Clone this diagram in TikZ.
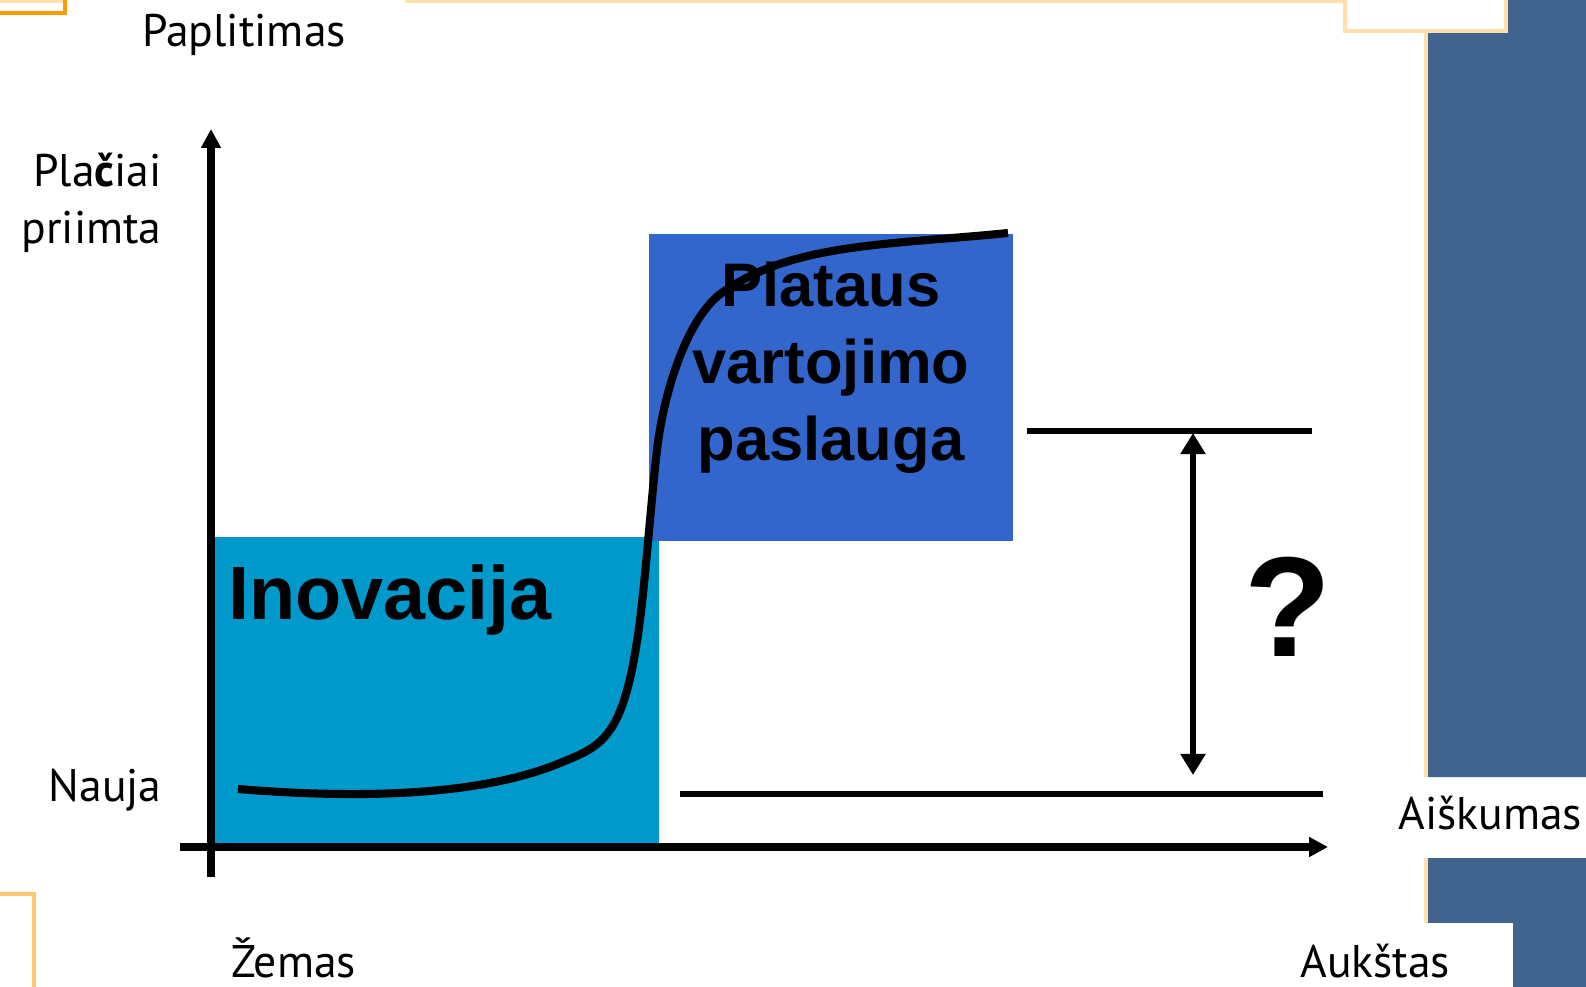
\documentclass[tikz,border=0pt]{standalone}
\usepackage{fontspec}
\setmainfont{PT Sans}
\newfontfamily\arialfont{Liberation Sans}
\usetikzlibrary{positioning, arrows.meta}
\definecolor{innoblue}{HTML}{0099CC}
\definecolor{wideblue}{HTML}{3366CC}
\definecolor{panelblue}{HTML}{41648F}
\definecolor{paleorange}{HTML}{FFDFAD}
\definecolor{darkorange}{HTML}{FF9900}
\definecolor{softorange}{HTML}{FFC870}
\tikzset{axis/.style={draw, line width=4pt, -{Triangle[length=10.8pt, width=10.8pt]}}}
\tikzset{gapline/.style={draw, line width=3pt}}
\tikzset{span/.style={draw, line width=3.6pt, {Triangle[length=12pt, width=13.7pt]}-{Triangle[length=12pt, width=13.7pt]}}}
\tikzset{lbl/.style={inner sep=0, font=\fontsize{26}{32.4}\selectfont}}
\tikzset{bigbold/.style={inner sep=0, font=\arialfont\bfseries\fontsize{35}{43.8}\selectfont}}
\tikzset{area/.style={inner sep=0, outer sep=0, anchor=north west, draw=none}}
\tikzset{frameline/.style={line width=2.6pt}}

\begin{document}
\begin{tikzpicture}[x=0.02cm, y=-0.02cm]
	\useasboundingbox (0,0) rectangle (1586,987);
	% slide frame
	\fill[panelblue] (1428,33) -- (1508,33) -- (1508,0) -- (1586,0) -- (1586,777) -- (1428,777) -- cycle;
	\fill[panelblue] (1428,858) rectangle (1586,923);
	\fill[panelblue] (1513,923) rectangle (1586,987);
	\draw[frameline, paleorange] (405,1) -- (1345,1) -- (1345,31) -- (1506,31) -- (1506,0);
	\draw[frameline, paleorange] (1426,33) -- (1426,777);
	\draw[frameline, paleorange] (1426,858) -- (1426,923);
	\draw[frameline, paleorange] (0,1) -- (67,1);
	\draw[frameline, darkorange] (0,13) -- (65,13) -- (65,0);
	\draw[frameline, softorange] (0,894) -- (34,894) -- (34,987);

	% areas
	\node[area, fill=innoblue, minimum width=8.9cm, minimum height=6.12cm] (inov) at (214,537) {};
	\node[area, fill=wideblue, minimum width=7.28cm, minimum height=6.14cm] (wide) at (649,234) {};

	% axes
	\coordinate (yfoot) at (211,877);
	\coordinate (ytop) at (211,129);
	\coordinate (xfoot) at (180,847);
	\coordinate (xtip) at (1328,847);
	\draw[axis] (yfoot) -- (ytop);
	\draw[axis] (xfoot) -- (xtip);

	% adoption curve
	\draw[line width=4.6pt] (238,789) .. controls (360,799) and (480,796) .. (560,763)
		.. controls (600,746.5) and (622,740) .. (637,641)
		.. controls (644,600) and (651,500) .. (657,450)
		.. controls (664,390) and (688,316) .. (723,292)
		.. controls (793,243) and (888,245) .. (1008,233);

	% gap
	\coordinate (hiL) at (1027,431);
	\coordinate (hiR) at (1312,431);
	\coordinate (loL) at (680,794);
	\coordinate (loR) at (1323,794);
	\draw[gapline] (hiL) -- (hiR);
	\draw[gapline] (loL) -- (loR);
	\coordinate (spantop) at (1193,433);
	\coordinate (spanbot) at (1193,775);
	\draw[span] (spantop) -- (spanbot);

	% labels
	\node[lbl, anchor=base west] (prevalence) at (142,47) {Paplitimas};
	\node[lbl, anchor=base east, align=right] (accepted) at (162,243) {Pla\textbf{č}iai\\priimta};
	\node[lbl, anchor=base east] (newlbl) at (162,801) {Nauja};
	\node[lbl, anchor=base west] (clarity) at (1398,829) {Aiškumas};
	\node[lbl, anchor=base west] (lowlbl) at (231,977) {Žemas};
	\node[lbl, anchor=base west] (highlbl) at (1300,977) {Aukštas};
	\node[bigbold, font=\arialfont\bfseries\fontsize{43}{50}\selectfont, anchor=base west] (inovtxt) at (228,619) {Inovacija};
	\node[bigbold, align=center, anchor=base] (widetxt) at (831,460) {Plataus\\vartojimo\\paslauga};
	\node[bigbold, font=\arialfont\bfseries\fontsize{81}{90}\selectfont, anchor=base] (qmark) at (1288,656) {?};
\end{tikzpicture}
\end{document}
